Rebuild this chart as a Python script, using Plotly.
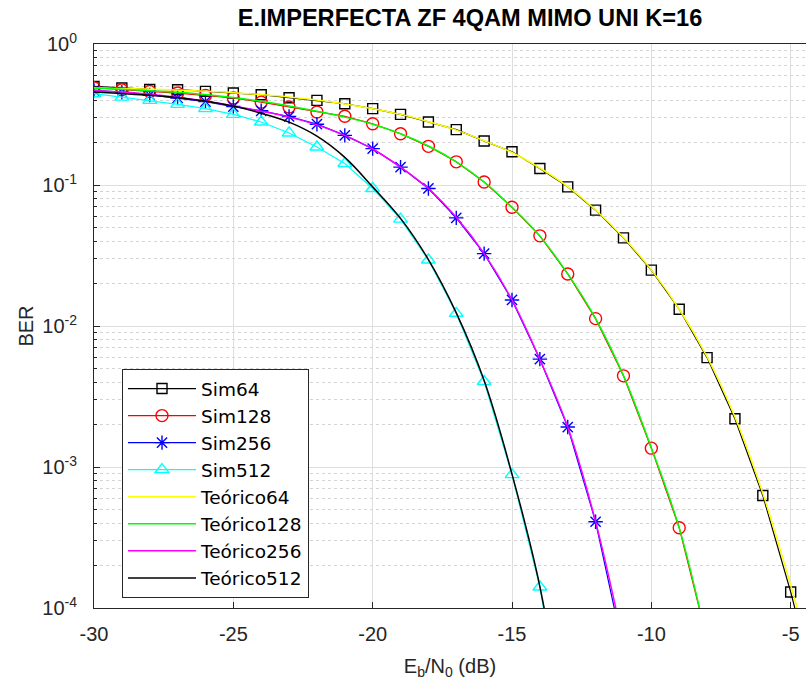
import plotly.graph_objects as go

# Eb/N0 grid (dB) for each curve
x64 = list(range(-30, -3))
x128 = list(range(-30, -7))
x256 = list(range(-30, -10))
x512 = list(range(-30, -12))

# Simulated BER (ZF, imperfect CSI, 4QAM, K=16)
sim64 = [0.50, 0.487, 0.476, 0.474, 0.461, 0.449, 0.437, 0.416, 0.398, 0.377,
         0.348, 0.317, 0.280, 0.247, 0.205, 0.172, 0.131, 0.097, 0.0663, 0.0422,
         0.0249, 0.01315, 0.00597, 0.0022, 6.28e-4, 1.30e-4, 2.2e-5]
sim128 = [0.49, 0.474, 0.461, 0.449, 0.432, 0.414, 0.387, 0.357, 0.329, 0.307,
          0.272, 0.231, 0.188, 0.146, 0.105, 0.0695, 0.0436, 0.0234, 0.01128,
          0.00443, 0.00136, 3.71e-4, 6.0e-5]
sim256 = [0.469, 0.455, 0.435, 0.414, 0.390, 0.360, 0.336, 0.306, 0.270, 0.225,
          0.181, 0.134, 0.0945, 0.0585, 0.0326, 0.0153, 0.00582, 0.00192,
          4.09e-4, 5.0e-5]
sim512 = [0.444, 0.420, 0.398, 0.373, 0.348, 0.317, 0.280, 0.234, 0.186, 0.142,
          0.0945, 0.0573, 0.0294, 0.0123, 0.00404, 8.83e-4, 1.41e-4, 1.0e-5]

# Theoretical BER
teo64 = [0.488, 0.484, 0.478, 0.471, 0.462, 0.452, 0.438, 0.421, 0.400, 0.376,
         0.348, 0.317, 0.281, 0.245, 0.206, 0.170, 0.132, 0.0975, 0.0665, 0.0425,
         0.0250, 0.0132, 0.00605, 0.00226, 6.5e-4, 1.45e-4, 2.8e-5]
teo128 = [0.485, 0.477, 0.467, 0.454, 0.438, 0.417, 0.392, 0.363, 0.333, 0.303,
          0.270, 0.231, 0.189, 0.146, 0.105, 0.0695, 0.0434, 0.0234, 0.0113,
          0.00445, 0.00137, 3.7e-4, 5.8e-5]
teo256 = [0.468, 0.456, 0.440, 0.419, 0.393, 0.364, 0.334, 0.303, 0.267, 0.225,
          0.180, 0.134, 0.0945, 0.059, 0.0326, 0.0153, 0.0058, 0.00192, 4.1e-4,
          5.6e-5]
teo512 = [0.456, 0.445, 0.433, 0.416, 0.393, 0.363, 0.323, 0.279, 0.222, 0.157,
          0.097, 0.058, 0.0296, 0.0124, 0.0041, 8.9e-4, 1.42e-4, 1.0e-5]

x_ticks = [-30, -25, -20, -15, -10, -5]
x_ticktext = ["-30", "-25", "-20", "-15", "-10", "-5"]
y_ticks = [1e-4, 1e-3, 1e-2, 1e-1, 1]
y_ticktext = ["10<sup>-4</sup>", "10<sup>-3</sup>", "10<sup>-2</sup>",
              "10<sup>-1</sup>", "10<sup>0</sup>"]
y_minor = [m * 10.0 ** e for e in range(-4, 0) for m in range(2, 10)]

FONT = "Liberation Sans, Arial, Helvetica, sans-serif"
LEG_FONT = "DejaVu Sans, Liberation Sans, sans-serif"
AX = "#262626"

fig = go.Figure()

sims = [
    ("Sim64", x64, sim64, "black", "square-open", 10),
    ("Sim128", x128, sim128, "#ff0000", "circle-open", 12),
    ("Sim256", x256, sim256, "#0000ff", "asterisk-open", 12),
    ("Sim512", x512, sim512, "#00ffff", "triangle-up-open", 12),
]
for name, xs, ys, col, sym, sz in sims:
    fig.add_trace(go.Scatter(
        x=xs, y=ys, name=name, mode="lines+markers",
        line=dict(color=col, width=1.2),
        marker=dict(symbol=sym, size=sz, color=col, line=dict(width=1.4, color=col)),
    ))

teos = [
    ("Teórico64", x64, teo64, "#ffff00"),
    ("Teórico128", x128, teo128, "#00ff00"),
    ("Teórico256", x256, teo256, "#ff00ff"),
    ("Teórico512", x512, teo512, "black"),
]
for name, xs, ys, col in teos:
    fig.add_trace(go.Scatter(
        x=xs, y=ys, name=name, mode="lines",
        line=dict(color=col, width=1.5, shape="spline"),
    ))

W, H = 806, 683
L, R, T, B = 94, 0, 44, 75
pw, ph = W - L - R, H - T - B

fig.update_layout(
    width=W, height=H,
    margin=dict(l=L, r=R, t=T, b=B),
    paper_bgcolor="white", plot_bgcolor="white",
    font=dict(family=FONT, size=20, color=AX),
    title=dict(text="<b>E.IMPERFECTA ZF 4QAM MIMO UNI K=16</b>",
               x=470 / W, xref="container", xanchor="center",
               y=1 - 18 / H, yref="container", yanchor="middle",
               font=dict(family=FONT, size=23.6, color="black")),
    showlegend=True,
    legend=dict(
        x=(122 - L) / pw, y=(H - B - 369) / ph, xanchor="left", yanchor="top",
        bgcolor="white", bordercolor=AX, borderwidth=1,
        font=dict(family=LEG_FONT, size=18.5, color="black"),
        itemwidth=68, tracegroupgap=0,
    ),
    xaxis=dict(
        range=[-30, -4.45], tickvals=x_ticks, ticktext=x_ticktext,
        ticks="inside", ticklen=6, tickcolor=AX, tickwidth=1,
        showline=True, linecolor=AX, linewidth=1, mirror=True,
        showgrid=True, gridcolor="#dedede", gridwidth=1,
        zeroline=False, ticklabelstandoff=8,
        title=dict(text="E<sub>b</sub>/N<sub>0</sub> (dB)", standoff=14,
                   font=dict(size=20, color=AX)),
    ),
    yaxis=dict(
        type="log", range=[-4, 0], tickvals=y_ticks, ticktext=y_ticktext,
        ticks="inside", ticklen=6, tickcolor=AX, tickwidth=1,
        showline=True, linecolor=AX, linewidth=1, mirror=False,
        showgrid=True, gridcolor="#dedede", gridwidth=1,
        zeroline=False, ticklabelstandoff=12,
        minor=dict(tickvals=y_minor, ticks="inside", ticklen=3, tickcolor=AX,
                   showgrid=True, griddash="dot", gridcolor="#d4d4d4", gridwidth=1),
        title=dict(text="BER", standoff=3, font=dict(size=20, color=AX)),
    ),
)

fig.write_html("out.html")
